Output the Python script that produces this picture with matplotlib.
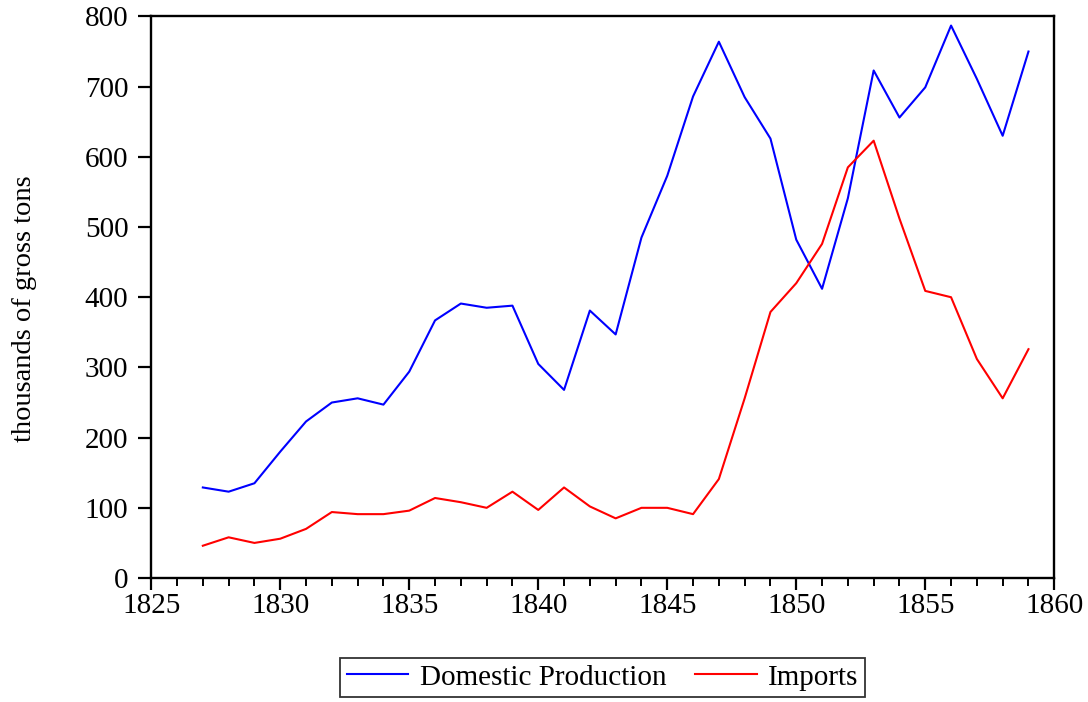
import numpy as np
import matplotlib.pyplot as plt
from matplotlib.ticker import MultipleLocator

years = list(range(1827, 1860))

domestic = [129, 123, 135, 180, 223, 250, 256, 247, 294, 367, 391, 385, 388,
            305, 268, 381, 347, 485, 573, 686, 764, 685, 626, 482, 412, 541,
            723, 656, 699, 787, 711, 630, 750]

imports = [46, 58, 50, 56, 70, 94, 91, 91, 96, 114, 108, 100, 123, 97, 129,
           102, 85, 100, 100, 91, 141, 256, 379, 420, 476, 585, 623, 512, 409,
           400, 312, 256, 326]

plt.rcParams['font.family'] = ['Liberation Serif', 'DejaVu Serif']

fig = plt.figure(figsize=(10.88, 7.02), dpi=100)
ax = fig.add_axes([0.139, 0.1766, 0.830, 0.800])

ax.plot(years, domestic, color='#0000ff', lw=1.5, label='Domestic Production')
ax.plot(years, imports, color='#ff0000', lw=1.5, label='Imports')

ax.set_xlim(1825, 1860)
ax.set_ylim(0, 800)
ax.xaxis.set_major_locator(MultipleLocator(5))
ax.xaxis.set_minor_locator(MultipleLocator(1))
ax.yaxis.set_major_locator(MultipleLocator(100))

for s in ax.spines.values():
    s.set_linewidth(1.7)

ax.tick_params(axis='both', which='major', direction='out', width=1.6,
               labelsize=21, colors='black')
ax.tick_params(axis='y', length=9.5, pad=7)
ax.tick_params(axis='x', which='major', length=8.5, pad=2.5)
ax.tick_params(axis='x', which='minor', direction='out', length=5.5, width=1.4)

ax.set_ylabel('thousands of gross tons', fontsize=20.5)
ax.yaxis.set_label_coords(-0.126, 0.479)

leg = ax.legend(loc='upper center', bbox_to_anchor=(0.5, -0.142), ncol=2,
                frameon=True, fancybox=False, fontsize=21, handlelength=2.1,
                columnspacing=1.0, borderpad=0.22, handletextpad=0.4,
                borderaxespad=0)
leg.get_frame().set_edgecolor('black')
leg.get_frame().set_linewidth(1.3)

fig.savefig('out.png', dpi=100)
